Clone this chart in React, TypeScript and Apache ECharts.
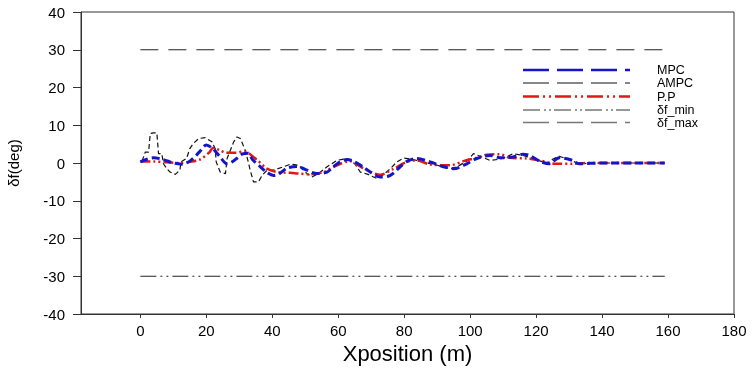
import React, { useEffect, useRef } from "react";
import * as echarts from "echarts";

const xTicks = [0, 20, 40, 60, 80, 100, 120, 140, 160, 180];
const yTicks = [-40, -30, -20, -10, 0, 10, 20, 30, 40];

const mpcData = [
  [0, 0.3], [2, 1], [4, 1.4], [7, 0.9], [10, 0], [12.5, -0.3], [15, 0.5], [18, 3], [20, 4.8],
  [22, 3.8], [24, 1.8], [26.3, -0.2], [28, 0.4], [29.5, 1.4], [31, 2.4], [32.7, 2.6], [34, 0.9],
  [36.4, -1], [38.5, -2.6], [40.4, -3.3], [42, -2.9], [44.4, -1.4], [47.5, -0.9], [50.5, -1.9],
  [53.5, -2.8], [56.6, -2.4], [58.5, -1], [60.6, 0.3], [62.6, 0.9], [64.6, 0.5], [67.7, -1.1],
  [69.7, -2.4], [72.7, -3.7], [75.8, -3.3], [78.8, -1], [81, 0.5], [83.8, 1.2], [87.9, 0.3],
  [91.9, -1], [95, -1.5], [99, -0.2], [102, 1.2], [106, 2], [109, 1.4], [113, 1.6], [116, 2.3],
  [118, 2], [121, 0.5], [124, -0.2], [127, 1.4], [131, 0.7], [133, -0.2], [140, 0], [150, 0], [159, 0],
];

const ampcData = [
  [0.5, 0.5], [1.5, 2.9], [2.5, 2.9], [3, 7.8], [4, 8], [5, 8], [5.5, 2.5], [6.5, 2.5], [7, -0.2],
  [8, -1.5], [9, -2.4], [10.6, -3], [12, -1.9], [12.3, 0.3], [14, 1.2], [15, 3.8], [16, 5.1],
  [17.7, 6.5], [19.7, 6.7], [21.7, 5.6], [22.7, 3.8], [23, 0.3], [24.2, -2.4], [25.8, -2.8],
  [26.3, 1.2], [27.3, 3.4], [28.3, 5.6], [29.3, 6.9], [30.3, 6.5], [31.8, 3.4], [32.8, 0],
  [33.3, -1.9], [34.3, -5], [35.8, -5], [36.9, -3.3], [38.4, -1.9], [40.4, -1.9], [43.4, -1],
  [45.5, -0.3], [48, -0.6], [50.5, -2.8], [52, -3.7], [54, -2.8], [56.6, -1], [59.6, 0.7],
  [62.6, 1.2], [65, -0.2], [66.7, -2.4], [69, -3], [71.7, -4.1], [73.5, -3.2], [75.8, -1.5],
  [77.8, 0.3], [79.8, 1.3], [82.3, 1], [86, 0.2], [90, -0.6], [94, -1.5], [96, -1], [99, 0.5],
  [101, 2.5], [103, 1.8], [106, 0.7], [109, 1], [111, 1.6], [113, 2.5], [116, 2], [119, 1.2],
  [122, 0.3], [124, -0.2], [125, 1], [127, 1.8], [130, 0.9], [133, -0.2], [140, 0], [159, 0],
];

const ppData = [
  [0, 0.4], [4, 0.4], [8, 0.2], [12, 0], [15, 0.3], [18, 0.9], [21, 2.9], [22, 4], [24, 3.4],
  [26, 2.7], [29, 2.7], [31.5, 3.1], [33, 2.5], [35.4, 0.8], [38.4, -1.5], [41.4, -2.4],
  [45.5, -2.6], [48, -2.8], [51.5, -3], [55.5, -2.4], [59.6, -0.6], [63.5, 0.5], [66, -0.6],
  [68.7, -1.9], [72.7, -3.1], [76.8, -1.5], [80.8, 0.3], [83.8, 0.7], [87.9, -0.4], [94, -0.6],
  [98, 0.5], [102, 1.4], [105, 2.2], [109, 2.3], [112, 1.4], [117, 1.2], [121, 0.7], [126, -0.2],
  [131, -0.2], [135, 0], [159, 0],
];

const minData = [[0, -30], [159, -30]];
const maxData = [[0, 30], [159, 30]];

const legendNames = ["MPC", "AMPC", "P.P", "δf_min", "δf_max"];

const FONT = "'Liberation Sans', Arial, sans-serif";

export default function App() {
  const ref = useRef<HTMLDivElement>(null);
  useEffect(() => {
    if (!ref.current) return;
    const chart = echarts.init(ref.current, null, { renderer: "svg" });
    const legendStyles = [
      { stroke: "#1414c8", lineWidth: 2.5, lineDash: [26, 8] },
      { stroke: "#111", lineWidth: 1.2, lineDash: [26, 8] },
      { stroke: "#e01818", lineWidth: 2.5, lineDash: [16, 4, 2, 4, 2, 4] },
      { stroke: "#777", lineWidth: 1.5, lineDash: [17, 4, 2, 3, 2, 3] },
      { stroke: "#777", lineWidth: 1.5, lineDash: [26, 8] },
    ];
    const legendY = [70, 83, 96.5, 110, 122.5];
    const graphic: any[] = [];
    legendNames.forEach((n, i) => {
      graphic.push({
        type: "line",
        shape: { x1: 523, y1: legendY[i], x2: 630, y2: legendY[i] },
        style: { ...legendStyles[i], fill: null },
      });
      graphic.push({
        type: "text",
        x: 657,
        y: legendY[i],
        style: { text: n, font: `12.5px ${FONT}`, lineHeight: 12, fill: "#000", verticalAlign: "middle" },
      });
    });
    chart.setOption({
      animation: false,
      grid: {
        left: 81, right: 20, top: 12, bottom: 54, show: true, borderColor: "#333", borderWidth: 1,
        outerBoundsMode: "none", containLabel: false,
      },
      xAxis: {
        type: "value",
        min: -18,
        max: 180,
        name: "Xposition (m)",
        nameLocation: "middle",
        nameGap: 28,
        nameTextStyle: { fontFamily: FONT, fontSize: 22, color: "#000" },
        axisLine: { onZero: false, lineStyle: { color: "#333" } },
        axisTick: { customValues: xTicks, length: 4, lineStyle: { color: "#333" } },
        axisLabel: { customValues: xTicks, fontFamily: FONT, fontSize: 15, color: "#000", margin: 9 },
        splitLine: { show: false },
      },
      yAxis: {
        type: "value",
        min: -40,
        max: 40,
        interval: 10,
        name: "δf(deg)",
        nameLocation: "middle",
        nameGap: 60,
        nameRotate: 90,
        nameTextStyle: { fontFamily: FONT, fontSize: 15, color: "#000" },
        axisLine: { show: true, onZero: false, lineStyle: { color: "#333" } },
        axisTick: { show: true, length: 8, lineStyle: { color: "#333" } },
        axisLabel: { fontFamily: FONT, fontSize: 15, color: "#000", margin: 16, customValues: yTicks },
        splitLine: { show: false },
      },
      graphic,
      series: [
        { name: "δf_max", type: "line", data: maxData, symbol: "none", lineStyle: { color: "#222", width: 1, type: [18, 10] } },
        { name: "δf_min", type: "line", data: minData, symbol: "none", lineStyle: { color: "#222", width: 1, type: [16, 4, 2, 4, 2, 4] } },
        { name: "AMPC", type: "line", data: ampcData, symbol: "none", lineStyle: { color: "#111", width: 1.2, type: [5, 3] } },
        { name: "P.P", type: "line", data: ppData, symbol: "none", smooth: 0.3, lineStyle: { color: "#e01818", width: 2.5, type: [10, 3, 2, 3, 2, 3] } },
        { name: "MPC", type: "line", data: mpcData, symbol: "none", smooth: 0.3, lineStyle: { color: "#1414c8", width: 3, type: [8, 4] } },
      ],
    });
    return () => chart.dispose();
  }, []);
  return <div ref={ref} style={{ position: "fixed", left: 0, top: 0, width: 754, height: 368 }} />;
}
